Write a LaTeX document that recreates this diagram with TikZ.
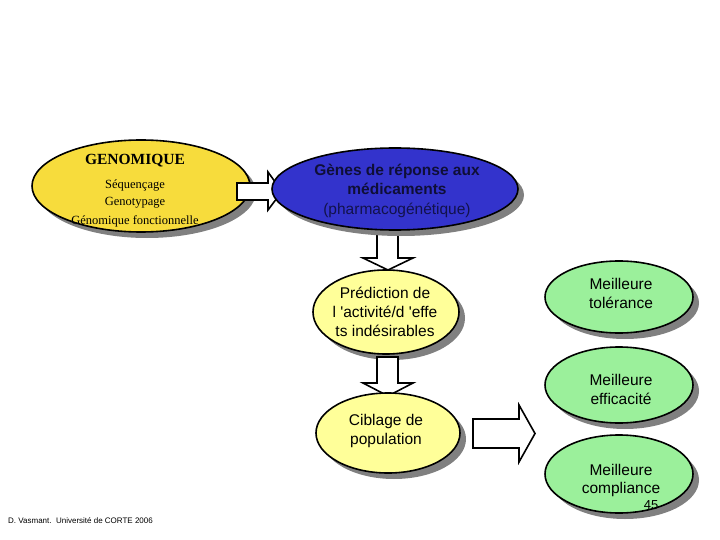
\documentclass[tikz,border=0pt]{standalone}
\usepackage{fontspec}
\setmainfont{Liberation Serif}
\newfontfamily\arial{Liberation Sans}
\usetikzlibrary{shapes.geometric}
\definecolor{gyellow}{RGB}{247,220,60}
\definecolor{gblue}{RGB}{51,51,204}
\definecolor{lyellow}{RGB}{255,255,153}
\definecolor{lgreen}{RGB}{155,240,155}
\definecolor{shad}{RGB}{128,128,128}
\definecolor{navytxt}{RGB}{15,15,55}
\definecolor{navytxtb}{RGB}{18,18,75}
\newcommand\myoval[6]{%
  \fill[shad] (#2+6,#3+6) ellipse [x radius=#4, y radius=#5];
  \node[oval, fill=#6, minimum width={2*#4}, minimum height={2*#5}] (#1) at (#2,#3) {};}
\begin{document}
\begin{tikzpicture}[x=1pt,y=-1pt,
  oval/.style={ellipse, draw=black, line width=1.6pt, inner sep=0pt},
  blockarrow/.style={draw=black, fill=white, line width=1.6pt, line join=miter},
  tnr/.style={font=\fontsize{12.5}{14}\selectfont, inner sep=0pt},
  ari/.style={font=\arial\fontsize{15.5}{18}\selectfont, inner sep=0pt, align=center},
  arib/.style={font=\arial\bfseries\fontsize{15.5}{18}\selectfont, inner sep=0pt, align=center, text=navytxt}]
\useasboundingbox (0,0) rectangle (720,540);
% GENOMIQUE
\myoval{geno}{141}{186}{109}{46}{gyellow}
\node[tnr, font=\bfseries\fontsize{15.5}{18}\selectfont] (t1) at (135,161) {GENOMIQUE};
\node[tnr] (t2) at (135,186) {Séquençage};
\node[tnr] (t3) at (135,203) {Genotypage};
\node[tnr] (t4) at (135,221) {Génomique fonctionnelle};
% arrows to and from blue
\draw[blockarrow] (237,183) -- (268,183) -- (268,172) -- (282,191.5) -- (268,210) -- (268,200) -- (237,200) -- cycle;
\draw[blockarrow] (377,226) -- (398,226) -- (398,258) -- (413,258) -- (388,270) -- (363,258) -- (377,258) -- cycle;
% blue
\myoval{genes}{395}{189}{123}{41}{gblue}
\node[arib] (b1) at (397,171) {Gènes de réponse aux};
\node[arib] (b2) at (397,189) {médicaments};
\node[ari, text=navytxtb] (b3) at (397,210) {(pharmacogénétique)};
% Prediction
\myoval{pred}{386}{312}{73}{42}{lyellow}
\node[ari] (p1) at (385,293) {Prédiction de};
\node[ari] (p2) at (385,312) {l 'activité/d 'effe};
\node[ari] (p3) at (385,331) {ts indésirables};
\draw[blockarrow] (377,357) -- (398,357) -- (398,383) -- (413,383) -- (388,396) -- (363,383) -- (377,383) -- cycle;
% Ciblage
\myoval{cibl}{388}{433}{72}{40}{lyellow}
\node[ari] (c1) at (386,421) {Ciblage de};
\node[ari] (c2) at (386,440) {population};
\draw[blockarrow] (473,419) -- (519,419) -- (519,405) -- (535,433.5) -- (519,462) -- (519,448) -- (473,448) -- cycle;
% greens
\myoval{tol}{619}{297}{74}{36}{lgreen}
\node[ari] (g1) at (621,284) {Meilleure};
\node[ari] (g2) at (621,303) {tolérance};
\myoval{eff}{619}{385}{74}{38}{lgreen}
\node[ari] (g3) at (621,380) {Meilleure};
\node[ari] (g4) at (621,399) {efficacité};
\myoval{comp}{619}{474}{74}{39}{lgreen}
\node[ari] (g5) at (621,470) {Meilleure};
\node[ari] (g6) at (621,489) {compliance};
\node[ari, font=\arial\fontsize{13}{15}\selectfont] (num) at (651,505) {45};
\node[anchor=west, inner sep=0pt, font=\arial\fontsize{8}{9}\selectfont] (foot) at (8,521) {D. Vasmant.\ \ Université de CORTE 2006};
\end{tikzpicture}
\end{document}
